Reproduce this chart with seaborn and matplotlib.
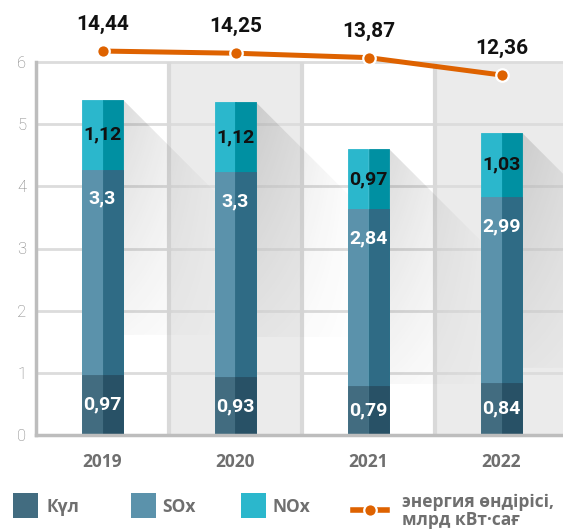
import numpy as np
import pandas as pd
import matplotlib
matplotlib.use("Agg")
import matplotlib.pyplot as plt
import matplotlib.font_manager as fm
from matplotlib.patches import Polygon, Rectangle
from matplotlib.lines import Line2D
import seaborn as sns

# ---- data -------------------------------------------------------------
years = ["2019", "2020", "2021", "2022"]
kul = [0.97, 0.93, 0.79, 0.84]      # ash
sox = [3.3, 3.3, 2.84, 2.99]
nox = [1.12, 1.12, 0.97, 1.03]
energy = [14.44, 14.25, 13.87, 12.36]   # generation, bn kWh

legend_labels = ["Күл", "SOx", "NOx", "энергия өндірісі,\nмлрд кВт·сағ"]
y_ticks = [0, 1, 2, 3, 4, 5, 6]

# ---- styling ----------------------------------------------------------
names = {f.name for f in fm.fontManager.ttflist}
NUM_FONT = "Liberation Sans Narrow" if "Liberation Sans Narrow" in names else "Roboto"
LBL_FONT = "Open Sans" if "Open Sans" in names else "DejaVu Sans"
num_kw = dict(family=NUM_FONT, fontweight="bold")

colors = {
    "kul": ("#426c80", "#285166"),
    "sox": ("#5b92ab", "#2f6b85"),
    "nox": ("#2bb7cc", "#0090a2"),
}
ORANGE = "#de6200"
GREY_TXT = "#6f6f6f"

W, H = 563, 531
fig = plt.figure(figsize=(W / 100, H / 100), dpi=100)
ax = fig.add_axes([36 / W, (H - 435) / H, 532 / W, 373 / H])

n = len(years)
xpos = np.arange(n)
bar_w = 0.31

# alternating column backgrounds
for i in range(n):
    if i % 2 == 1:
        ax.axvspan(i - 0.5, i + 0.5, color="#ebebeb", zorder=0, lw=0)
# grid
for y in y_ticks[1:]:
    ax.axhline(y, color="#dcdcdc", lw=2, zorder=1, clip_on=False)
for i in range(n - 1):
    ax.axvline(i + 0.5, color="#d9d9d9", lw=3, zorder=1)

kul_a = np.array(kul)
sox_a = np.array(sox)
nox_a = np.array(nox)
totals = kul_a + sox_a + nox_a

# long diagonal shadows to the right of each bar
px_x = 133.0
px_y = 373.0 / 6.0
L_px, H_px = 110.0, 235.0
gu = np.linspace(0, 1, 200)
gv = np.linspace(0, 1, 200)
U, V = np.meshgrid(gu, gv)
alpha = 0.18 * (1 - U) ** 1.1 * (1 - 0.78 * V)
rgba = np.zeros((200, 200, 4))
rgba[..., :3] = 0.25
rgba[..., 3] = alpha
for i in range(n):
    xr = xpos[i] + bar_w / 2
    top = totals[i]
    dx = L_px / px_x
    dy = L_px / px_y
    hh = H_px / px_y
    poly = Polygon([(xr, top), (xr + dx, top - dy), (xr + dx, top - hh), (xr, top - hh)],
                   closed=True, transform=ax.transData)
    im = ax.imshow(rgba, extent=[xr, xr + dx, top - hh, top], origin="upper",
                   aspect="auto", interpolation="bilinear", zorder=2)
    im.set_clip_path(poly)

# stacked two-tone bars (cumulative layers drawn top-down)
layers = [
    ("nox", totals),
    ("sox", kul_a + sox_a),
    ("kul", kul_a),
]
for key, vals in layers:
    df = pd.DataFrame({
        "year": years * 2,
        "value": list(vals) * 2,
        "side": ["L"] * n + ["R"] * n,
    })
    light, dark = colors[key]
    sns.barplot(data=df, x="year", y="value", hue="side", hue_order=["L", "R"],
                order=years, palette={"L": light, "R": dark}, width=bar_w,
                dodge=True, gap=0, errorbar=None, legend=False, ax=ax,
                saturation=1, linewidth=0, zorder=3)

# close hairline gaps between the two halves of each bar
for p in ax.patches:
    if isinstance(p, Rectangle) and p.get_zorder() == 3:
        p.set_edgecolor(p.get_facecolor())
        p.set_linewidth(0.6)


def fmt(v):
    return f"{v:g}".replace(".", ",")


for i in range(n):
    ax.text(xpos[i], kul_a[i] / 2, fmt(kul[i]), ha="center", va="center",
            color="white", fontsize=14, zorder=5, **num_kw)
    ax.text(xpos[i], kul_a[i] + sox_a[i] - 0.47, fmt(sox[i]), ha="center", va="center",
            color="white", fontsize=14, zorder=5, **num_kw)
    ax.text(xpos[i], kul_a[i] + sox_a[i] + nox_a[i] / 2, fmt(nox[i]), ha="center",
            va="center", color="#111111", fontsize=14, zorder=5, **num_kw)

ax.set_xlim(-0.5, 3.5)
ax.set_ylim(0, 6)
ax.set_yticks(y_ticks)
ax.set_yticklabels([str(t) for t in y_ticks], family="Roboto", fontweight="light",
                   fontsize=12, color="#7f7f7f")
ax.set_xticks(xpos)
ax.set_xticklabels(years, family=LBL_FONT, fontweight="bold", fontsize=12.5,
                   color=GREY_TXT)
ax.tick_params(axis="y", length=0, pad=7)
ax.tick_params(axis="x", length=0, pad=13)
ax.set_xlabel("")
ax.set_ylabel("")
for s in ["top", "right"]:
    ax.spines[s].set_visible(False)
for s in ["left", "bottom"]:
    ax.spines[s].set_color("#bdbdbd")
    ax.spines[s].set_linewidth(2.5)
    ax.spines[s].set_zorder(4)

# energy generation line on its own scale
ax2 = ax.twinx()
sns.lineplot(x=xpos, y=energy, ax=ax2, color=ORANGE, lw=3.6, marker="o",
             markersize=9, markeredgecolor="white", markeredgewidth=1.6,
             clip_on=False, zorder=6)
ax2.set_ylim(-18.84, 13.49)
ax2.set_xlim(-0.5, 3.5)
ax2.axis("off")
for i in range(n):
    ax2.annotate(fmt(energy[i]), (xpos[i], energy[i]), xytext=(0, 19),
                 textcoords="offset points", ha="center", va="center",
                 fontsize=15, color="#111111", annotation_clip=False, **num_kw)

# legend row
def fx(px):
    return px / W


def fy(py):
    return 1 - py / H


sw = 25
legend_items = [(13, 46, colors["kul"][0]), (131, 162, colors["sox"][0]),
                (241, 273, colors["nox"][0])]
for (sx, tx, c), lab in zip(legend_items, legend_labels[:3]):
    fig.add_artist(Rectangle((fx(sx), fy(518)), sw / W, sw / H, color=c,
                             transform=fig.transFigure, lw=0))
    fig.text(fx(tx), fy(507), lab, ha="left", va="center", fontsize=12.5,
             fontweight="bold", family=LBL_FONT, color=GREY_TXT)

fig.add_artist(Line2D([fx(353), fx(387)], [fy(510), fy(510)], color=ORANGE, lw=4,
                      transform=fig.transFigure))
fig.add_artist(Line2D([fx(370)], [fy(510)], color=ORANGE, marker="o", markersize=9,
                      markeredgecolor="white", markeredgewidth=1.6,
                      transform=fig.transFigure))
fig.text(fx(402), fy(511), legend_labels[3], ha="left", va="center", fontsize=12.5,
         fontweight="bold", family=LBL_FONT, color=GREY_TXT, linespacing=1.05)

fig.savefig("out.png", dpi=100)
